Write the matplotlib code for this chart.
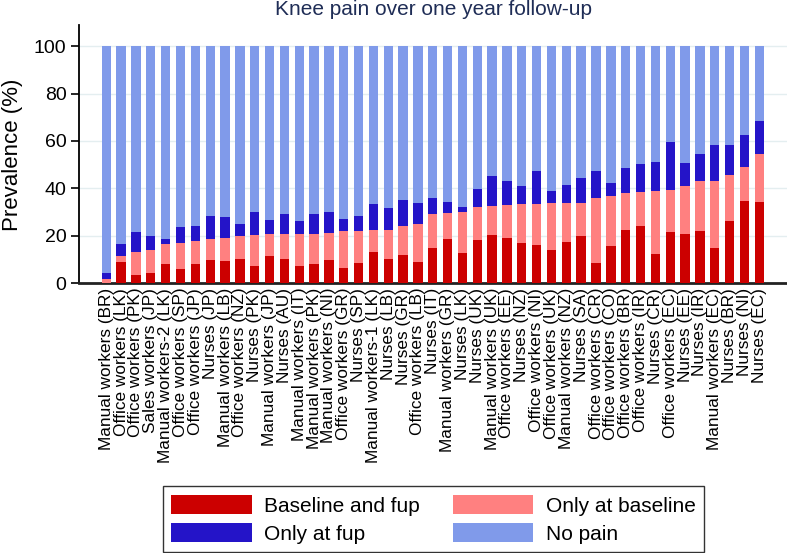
"""Knee pain over one year follow-up: stacked prevalence bars per occupational group"""
import numpy as np
import matplotlib
matplotlib.use("Agg")
import matplotlib.pyplot as plt

plt.rcParams['font.family'] = ['Liberation Sans', 'DejaVu Sans']

groups = [
    "Manual workers (BR)", "Office workers (LK)", "Office workers (PK)", "Sales workers (JP)",
    "Manual workers-2 (LK)", "Office workers (SP)", "Office workers (JP)", "Nurses (JP)",
    "Manual workers (LB)", "Office workers (NZ)", "Nurses (PK)", "Manual workers (JP)",
    "Nurses (AU)", "Manual workers (IT)", "Manual workers (PK)", "Manual workers (NI)",
    "Office workers (GR)", "Nurses (SP)", "Manual workers-1 (LK)", "Nurses (LB)",
    "Nurses (GR)", "Office workers (LB)", "Nurses (IT)", "Manual workers (GR)",
    "Nurses (LK)", "Nurses (UK)", "Manual workers (UK)", "Office workers (EE)",
    "Nurses (NZ)", "Office workers (NI)", "Office workers (UK)", "Manual workers (NZ)",
    "Nurses (SA)", "Office workers (CR)", "Office workers (CO)", "Office workers (BR)",
    "Office workers (IR)", "Nurses (CR)", "Office workers (EC)", "Nurses (EE)",
    "Nurses (IR)", "Manual workers (EC)", "Nurses (BR)", "Nurses (NI)", "Nurses (EC)",
]

# prevalence (%) of each category
baseline_and_fup = [
    0.0, 8.7, 3.4, 4.2, 7.9, 5.9, 8.2, 9.6, 9.3, 10.1, 7.0, 11.3, 10.1, 7.3, 8.2,
    9.8, 6.5, 8.4, 12.9, 10.1, 11.8, 8.7, 14.6, 18.6, 12.7, 18.3, 20.3, 19.1, 16.9, 16.0,
    13.8, 17.4, 20.0, 8.4, 15.8, 22.5, 24.2, 12.4, 21.4, 20.5, 21.9, 14.6, 26.2, 34.6, 34.3,
]
only_baseline = [
    1.7, 2.8, 9.8, 9.9, 8.4, 11.0, 9.5, 9.2, 9.8, 9.6, 13.3, 9.2, 10.7, 13.5, 12.6,
    11.3, 15.4, 13.5, 9.6, 12.4, 12.4, 16.1, 14.4, 10.9, 17.1, 13.8, 12.3, 13.8, 16.3, 17.5,
    20.0, 16.6, 14.0, 27.3, 21.0, 15.5, 14.1, 26.4, 17.7, 20.3, 21.1, 28.4, 19.4, 14.6, 20.0,
]
only_fup = [
    2.5, 5.1, 8.2, 5.6, 2.5, 6.7, 6.5, 9.3, 8.7, 5.1, 9.5, 6.2, 8.2, 5.4, 8.2,
    9.0, 5.1, 6.2, 10.7, 9.0, 10.7, 9.0, 6.7, 4.8, 2.3, 7.6, 12.4, 10.1, 7.9, 14.0,
    5.0, 7.4, 10.2, 11.6, 5.4, 10.7, 11.8, 12.4, 20.5, 9.8, 11.3, 15.5, 12.6, 13.5, 14.1,
]
no_pain = [
    95.8, 83.4, 78.6, 80.3, 81.2, 76.4, 75.8, 71.9, 72.2, 75.2, 70.2, 73.3, 71.0, 73.8, 71.0,
    69.9, 73.0, 71.9, 66.8, 68.5, 65.1, 66.2, 64.3, 65.7, 67.9, 60.3, 55.0, 57.0, 58.9, 52.5,
    61.2, 58.6, 55.8, 52.7, 57.8, 51.3, 49.9, 48.8, 40.4, 49.4, 45.7, 41.5, 41.8, 37.3, 31.6,
]

series = [
    ("Baseline and fup", baseline_and_fup, "#cc0000"),
    ("Only at baseline", only_baseline, "#ff8080"),
    ("Only at fup", only_fup, "#2414c8"),
    ("No pain", no_pain, "#809aea"),
]
yticks = [0, 20, 40, 60, 80, 100]

W, H = 787, 553
fig = plt.figure(figsize=(W / 100, H / 100), dpi=100)
ax = fig.add_axes([79 / W, 1 - 283 / H, 1 - 79 / W, (283 - 25) / H])

x = np.arange(len(groups))
bottom = np.zeros(len(groups))
handles = []
for name, vals, col in series:
    vals = np.array(vals)
    h = ax.bar(x, vals, width=0.63, bottom=bottom, color=col, label=name, zorder=3)
    handles.append(h)
    bottom += vals

ax.set_xlim(-1.84, len(groups) + 0.87)
ax.set_ylim(0, 109)
ax.set_yticks(yticks)
ax.set_xticks(x)
ax.set_xticklabels(groups, rotation=90, fontsize=12.4)
ax.tick_params(axis='x', length=0, pad=3.5)
ax.tick_params(axis='y', labelsize=14, length=6, width=1.2, pad=3)
ax.grid(axis='y', color='#e4eef0', linewidth=1.0, zorder=0)
ax.set_axisbelow(True)

for s in ('top', 'right'):
    ax.spines[s].set_visible(False)
ax.spines['left'].set_linewidth(1.3)
ax.spines['bottom'].set_linewidth(2.0)
ax.spines['bottom'].set_color('#222222')

fig.text(13 / W, 1 - 155 / H, "Prevalence (%)", rotation=90, fontsize=16,
         ha='center', va='center')
fig.text(433.5 / W, 1.0, "Knee pain over one year follow-up", fontsize=15,
         color='#1f2d56', ha='center', va='top')

# legend is filled row by row in the original, matplotlib fills columns
order = [0, 2, 1, 3]
leg = fig.legend([handles[i] for i in order], [series[i][0] for i in order],
                 loc='lower center', bbox_to_anchor=(433.5 / W, 1 / H), ncol=2,
                 borderaxespad=0, fontsize=15, frameon=True, fancybox=False,
                 edgecolor='black', handlelength=3.85, handleheight=1.06,
                 handletextpad=0.6, columnspacing=1.6, borderpad=0.4, labelspacing=0.35)
leg.get_frame().set_linewidth(1.0)

fig.savefig("out.png", dpi=100)
